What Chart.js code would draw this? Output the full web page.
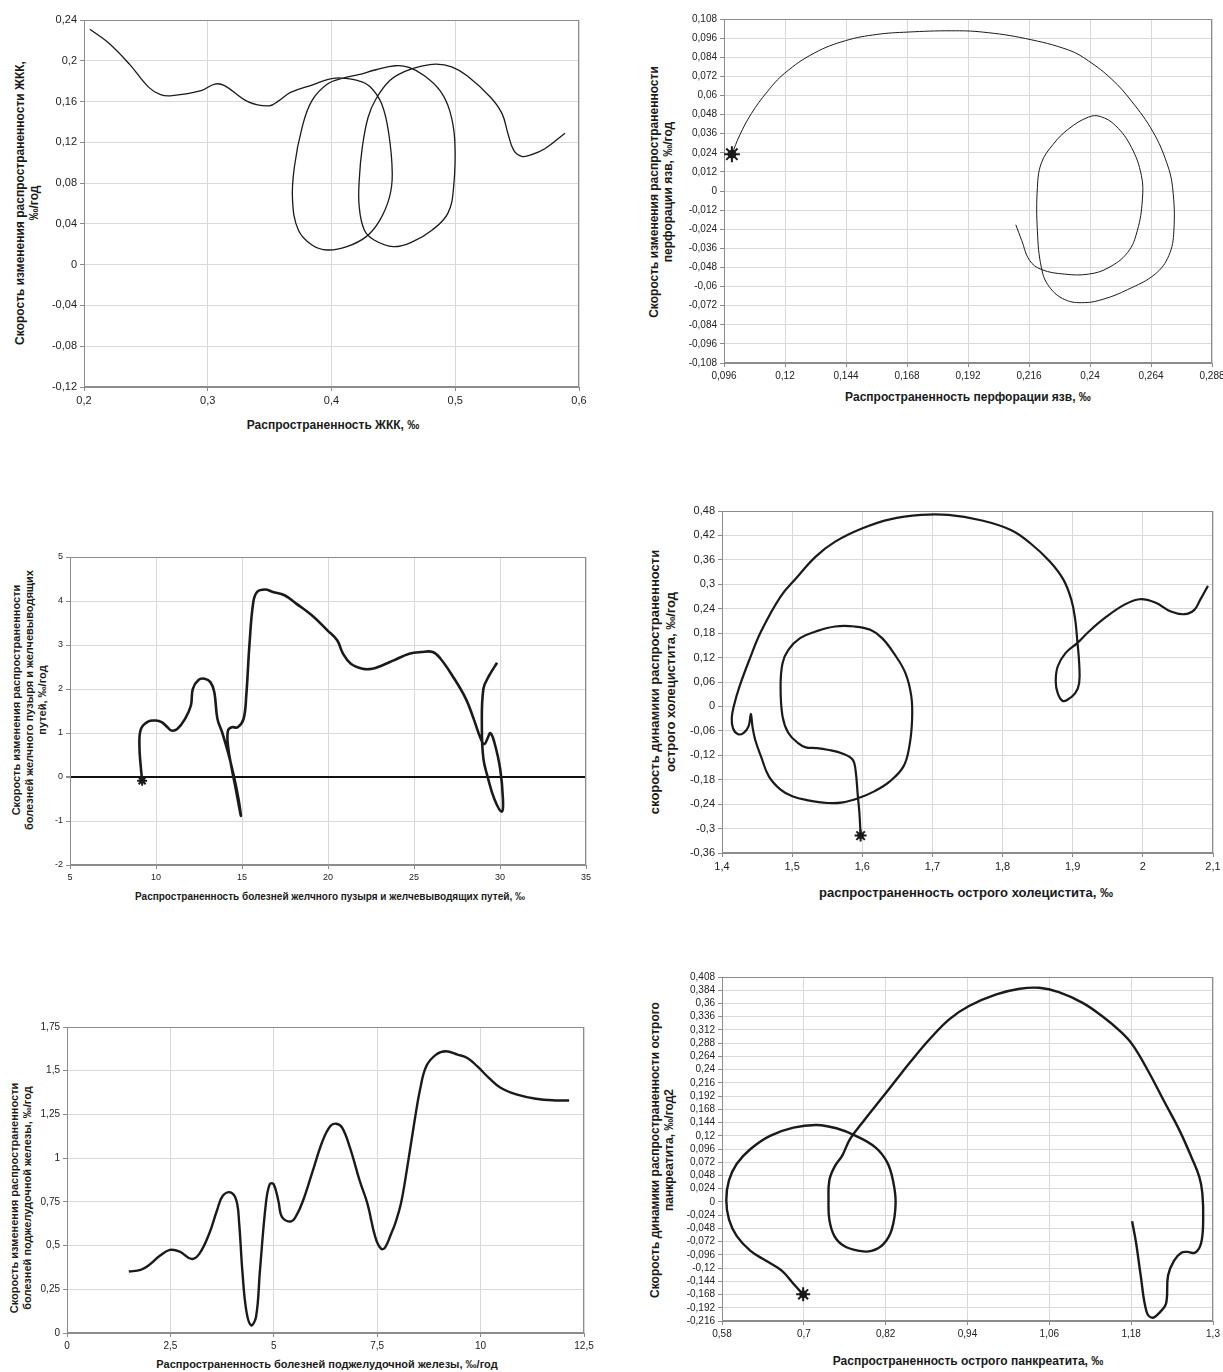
<!DOCTYPE html>
<html>
<head>
<meta charset="utf-8">
<script src="https://cdn.jsdelivr.net/npm/chart.js@4.4.1/dist/chart.umd.min.js"></script>
<style>
body { margin: 0; background: #fff; width: 1223px; height: 1372px; position: relative; overflow: hidden; font-family: "Liberation Sans", Arial, sans-serif; }
canvas { position: absolute; }
.t { position: absolute; font-weight: bold; color: #1a1a1a; white-space: nowrap; text-align: center; line-height: 1.2; }
.ty { transform: translate(-50%, -50%) rotate(-90deg); }
.tx { transform: translate(-50%, -50%); }
</style>
</head>
<body>

<div class="t ty" style="left:27px;top:203px;font-size:12px">Скорость изменения распространенности ЖКК,<br>‰/год</div>
<div class="t tx" style="left:333px;top:425px;font-size:12px">Распространенность ЖКК, ‰</div>

<div class="t ty" style="left:661px;top:192px;font-size:12px">Скорость изменения распространенности<br>перфорации язв, ‰/год</div>
<div class="t tx" style="left:968px;top:397px;font-size:12px">Распространенность перфорации язв, ‰</div>

<div class="t ty" style="left:30px;top:700px;font-size:11px">Скорость изменения распространенности<br>болезней желчного пузыря и желчевыводящих<br>путей, ‰/год</div>
<div class="t tx" style="left:330px;top:897px;font-size:10px">Распространенность болезней желчного пузыря и желчевыводящих путей, ‰</div>

<div class="t ty" style="left:663px;top:682px;font-size:13px">скорость динамики распространенности<br>острого холецистита, ‰/год</div>
<div class="t tx" style="left:966px;top:893px;font-size:13px">распространенность острого холецистита, ‰</div>

<div class="t ty" style="left:21px;top:1198px;font-size:11px">Скорость изменения распространенности<br>болезней поджелудочной железы, ‰/год</div>
<div class="t tx" style="left:327px;top:1365px;font-size:11px">Распространенность болезней поджелудочной железы, ‰/год</div>

<div class="t ty" style="left:662px;top:1150px;font-size:12px">Скорость динамики распространенности острого<br>панкреатита, ‰/год2</div>
<div class="t tx" style="left:968px;top:1361px;font-size:12px">Распространенность острого панкреатита, ‰</div>

<script>
// ЖКК
const p1X = [0.2047, 0.2195, 0.2367, 0.2524, 0.2618, 0.2712, 0.2947, 0.3057, 0.3136, 0.3324, 0.3496, 0.3575, 0.3669, 0.3842,
  0.4030, 0.4218, 0.4312, 0.4406, 0.4463, 0.4491, 0.4469, 0.4391, 0.4281, 0.4124, 0.3967, 0.3842, 0.3732, 0.3685, 0.3700,
  0.3763, 0.3842, 0.3967, 0.4093, 0.4218, 0.4359, 0.4516, 0.4626, 0.4751, 0.4877, 0.4955, 0.4996, 0.4987, 0.4940, 0.4814,
  0.4657, 0.4500, 0.4344, 0.4265, 0.4224, 0.4224, 0.4249, 0.4296, 0.4359, 0.4469, 0.4594, 0.4720, 0.4845, 0.4971, 0.5096,
  0.5285, 0.5379, 0.5426, 0.5473, 0.5536, 0.5598, 0.5724, 0.5887];
const p1Y = [0.2309, 0.2179, 0.1967, 0.1739, 0.1668, 0.1658, 0.1707, 0.1772, 0.1756, 0.1599, 0.1557, 0.1609, 0.1690, 0.1762,
  0.1830, 0.1804, 0.1746, 0.1577, 0.1284, 0.0893, 0.0665, 0.0437, 0.0275, 0.0177, 0.0144, 0.0193, 0.0340, 0.0633, 0.0958,
  0.1349, 0.1609, 0.1772, 0.1830, 0.1863, 0.1912, 0.1951, 0.1935, 0.1853, 0.1707, 0.1511, 0.1219, 0.0763, 0.0503, 0.0340,
  0.0226, 0.0177, 0.0242, 0.0340, 0.0568, 0.0828, 0.1153, 0.1446, 0.1625, 0.1804, 0.1896, 0.1944, 0.1967, 0.1941, 0.1853,
  0.1642, 0.1479, 0.1284, 0.1121, 0.1062, 0.1072, 0.1137, 0.1290];
const p1XTicks = [0.2, 0.3, 0.4, 0.5, 0.6];
const p1YTicks = [-0.12, -0.08, -0.04, 0, 0.04, 0.08, 0.12, 0.16, 0.2, 0.24];

// перфорация язв
const p2X = [0.0991, 0.1022, 0.1068, 0.1130, 0.1199, 0.1315, 0.1438, 0.1561, 0.1684, 0.1854, 0.1977, 0.2147, 0.2316, 0.2394,
  0.2486, 0.2563, 0.2648, 0.2702, 0.2725, 0.2730, 0.2710, 0.2656, 0.2548, 0.2455, 0.2378, 0.2301, 0.2239, 0.2209, 0.2193,
  0.2193, 0.2209, 0.2255, 0.2316, 0.2394, 0.2440, 0.2501, 0.2563, 0.2602, 0.2606, 0.2586, 0.2548, 0.2471, 0.2394, 0.2301,
  0.2209, 0.2162, 0.2131, 0.2108];
const p2Y = [0.0231, 0.0351, 0.0487, 0.0623, 0.0740, 0.0866, 0.0944, 0.0983, 0.0998, 0.1006, 0.0998, 0.0957, 0.0885, 0.0817,
  0.0701, 0.0565, 0.0371, 0.0177, 0.0021, -0.0250, -0.0406, -0.0522, -0.0619, -0.0678, -0.0701, -0.0682, -0.0600, -0.0483,
  -0.0250, 0.0021, 0.0177, 0.0293, 0.0390, 0.0464, 0.0468, 0.0410, 0.0274, 0.0099, -0.0056, -0.0250, -0.0386, -0.0483,
  -0.0522, -0.0522, -0.0493, -0.0435, -0.0309, -0.0212];
const p2XTicks = [0.096, 0.12, 0.144, 0.168, 0.192, 0.216, 0.24, 0.264, 0.288];
const p2YTicks = [-0.108, -0.096, -0.084, -0.072, -0.06, -0.048, -0.036, -0.024, -0.012, 0, 0.012, 0.024, 0.036, 0.048,
  0.06, 0.072, 0.084, 0.096, 0.108];

// желчный пузырь и желчевыводящие пути
const p3X = [9.195, 9.127, 9.036, 9.127, 9.535, 9.989, 10.329, 10.669, 10.896, 11.236, 11.689, 12.029, 12.143, 12.483,
  12.823, 13.163, 13.390, 13.571, 13.844, 14.184, 14.524, 14.796, 14.932, 14.637, 14.410, 14.184, 14.184, 14.410, 14.751,
  15.091, 15.249, 15.431, 15.658, 15.884, 16.338, 16.791, 17.472, 18.152, 19.059, 19.966, 20.533, 20.873, 21.327, 22.007,
  22.574, 23.141, 23.821, 24.728, 25.408, 26.088, 26.542, 27.222, 28.016, 28.469, 28.923, 29.104, 29.263, 29.444, 29.671,
  30.011, 30.170, 30.102, 29.671, 29.263, 29.036, 28.946, 29.036, 29.376, 29.830];
const p3Y = [-0.084, 0.182, 0.714, 1.094, 1.260, 1.283, 1.245, 1.131, 1.055, 1.093, 1.321, 1.625, 2.005, 2.210, 2.232,
  2.156, 1.929, 1.321, 1.017, 0.562, 0.030, -0.501, -0.881, -0.273, 0.182, 0.714, 1.055, 1.131, 1.131, 1.321, 1.853,
  2.992, 3.979, 4.207, 4.260, 4.207, 4.131, 3.941, 3.675, 3.333, 3.106, 2.802, 2.574, 2.460, 2.460, 2.536, 2.650, 2.802,
  2.840, 2.840, 2.688, 2.308, 1.777, 1.321, 0.828, 0.752, 0.866, 0.995, 0.790, 0.182, -0.501, -0.790, -0.501, 0.030,
  0.410, 1.094, 2.005, 2.308, 2.597];
const p3XTicks = [5, 10, 15, 20, 25, 30, 35];
const p3YTicks = [-2, -1, 0, 1, 2, 3, 4, 5];

// острый холецистит
const p4X = [1.5976, 1.5959, 1.5937, 1.5903, 1.5864, 1.5725, 1.5503, 1.5336, 1.5196, 1.5085, 1.4946, 1.4863, 1.4835,
  1.4863, 1.4946, 1.5113, 1.5336, 1.5614, 1.5892, 1.6115, 1.6282, 1.6449, 1.6615, 1.6699, 1.6710, 1.6671, 1.6588, 1.6393,
  1.6170, 1.5948, 1.5725, 1.5503, 1.5224, 1.5002, 1.4835, 1.4668, 1.4556, 1.4473, 1.4434, 1.4412, 1.4378, 1.4306, 1.4223,
  1.4156, 1.4139, 1.4167, 1.4250, 1.4390, 1.4556, 1.4835, 1.5057, 1.5336, 1.5614, 1.6003, 1.6393, 1.6838, 1.7228, 1.7673,
  1.8118, 1.8396, 1.8674, 1.8869, 1.8981, 1.9036, 1.9064, 1.9092, 1.9092, 1.9036, 1.8925, 1.8853, 1.8786, 1.8758, 1.8786,
  1.8897, 1.9064, 1.9231, 1.9454, 1.9732, 1.9955, 2.0177, 2.0400, 2.0594, 2.0733, 2.0817, 2.0928];
const p4Y = [-0.3173, -0.2617, -0.2208, -0.1554, -0.1309, -0.1161, -0.1063, -0.1022, -0.1006, -0.0900, -0.0654, -0.0245,
  0.0491, 0.1063, 0.1390, 0.1677, 0.1840, 0.1963, 0.1963, 0.1881, 0.1677, 0.1309, 0.0818, 0.0245, -0.0327, -0.0981,
  -0.1472, -0.1840, -0.2086, -0.2249, -0.2355, -0.2372, -0.2306, -0.2208, -0.2045, -0.1718, -0.1227, -0.0818, -0.0491,
  -0.0180, -0.0491, -0.0654, -0.0679, -0.0532, -0.0286, 0, 0.0491, 0.1145, 0.1840, 0.2699, 0.3149, 0.3680, 0.4048,
  0.4376, 0.4596, 0.4703, 0.4703, 0.4580, 0.4335, 0.4008, 0.3558, 0.3108, 0.2617, 0.2126, 0.1636, 0.1063, 0.0573,
  0.0327, 0.0164, 0.0139, 0.0327, 0.0613, 0.0981, 0.1309, 0.1554, 0.1840, 0.2167, 0.2494, 0.2633, 0.2552, 0.2331,
  0.2265, 0.2372, 0.2617, 0.2961];
const p4XTicks = [1.4, 1.5, 1.6, 1.7, 1.8, 1.9, 2, 2.1];
const p4YTicks = [-0.36, -0.3, -0.24, -0.18, -0.12, -0.06, 0, 0.06, 0.12, 0.18, 0.24, 0.3, 0.36, 0.42, 0.48];

// поджелудочная железа
const p5X = [1.495, 1.779, 1.968, 2.252, 2.489, 2.725, 3.009, 3.198, 3.435, 3.624, 3.766, 3.955, 4.097, 4.164, 4.239,
  4.334, 4.447, 4.570, 4.665, 4.807, 4.902, 4.996, 5.110, 5.204, 5.422, 5.564, 5.706, 5.942, 6.179, 6.368, 6.510, 6.652,
  6.841, 7.078, 7.267, 7.456, 7.598, 7.693, 7.835, 7.930, 8.071, 8.213, 8.403, 8.545, 8.687, 8.923, 9.160, 9.444, 9.680,
  9.917, 10.200, 10.484, 10.863, 11.336, 11.809, 12.140];
const p5Y = [0.3515, 0.3610, 0.3857, 0.4427, 0.4750, 0.4655, 0.4237, 0.4522, 0.5662, 0.6992, 0.7847, 0.8037, 0.7562,
  0.6232, 0.3572, 0.1292, 0.0437, 0.0912, 0.3572, 0.7372, 0.8512, 0.8512, 0.7562, 0.6612, 0.6384, 0.6802, 0.7562, 0.9272,
  1.0982, 1.1837, 1.1970, 1.1742, 1.0602, 0.8702, 0.7372, 0.5472, 0.4807, 0.4902, 0.5662, 0.6232, 0.7372, 0.9272, 1.2122,
  1.4022, 1.5257, 1.5922, 1.6112, 1.5922, 1.5732, 1.5257, 1.4592, 1.4022, 1.3642, 1.3395, 1.3300, 1.3300];
const p5XTicks = [0, 2.5, 5, 7.5, 10, 12.5];
const p5YTicks = [0, 0.25, 0.5, 0.75, 1, 1.25, 1.5, 1.75];

// острый панкреатит
const p6X = [0.6990, 0.6847, 0.6676, 0.6447, 0.6218, 0.6017, 0.5903, 0.5863, 0.5903, 0.6017, 0.6218, 0.6504, 0.6847,
  0.7191, 0.7477, 0.7763, 0.8049, 0.8221, 0.8306, 0.8346, 0.8289, 0.8163, 0.7992, 0.7820, 0.7591, 0.7448, 0.7374, 0.7362,
  0.7374, 0.7448, 0.7563, 0.7677, 0.7877, 0.8106, 0.8335, 0.8564, 0.8850, 0.9136, 0.9422, 0.9823, 1.0166, 1.0452, 1.0739,
  1.1082, 1.1368, 1.1654, 1.1826, 1.2055, 1.2283, 1.2512, 1.2684, 1.2799, 1.2844, 1.2856, 1.2827, 1.2741, 1.2627, 1.2541,
  1.2427, 1.2341, 1.2312, 1.2226, 1.2112, 1.2026, 1.1940, 1.1872, 1.1814];
const p6Y = [-0.1676, -0.1485, -0.1247, -0.1068, -0.0889, -0.0620, -0.0322, 0.0036, 0.0394, 0.0692, 0.0960, 0.1199,
  0.1348, 0.1396, 0.1336, 0.1199, 0.0990, 0.0722, 0.0394, -0.0024, -0.0501, -0.0770, -0.0889, -0.0889, -0.0799, -0.0620,
  -0.0322, 0.0036, 0.0394, 0.0632, 0.0841, 0.1139, 0.1468, 0.1825, 0.2183, 0.2541, 0.2959, 0.3317, 0.3555, 0.3764, 0.3866,
  0.3884, 0.3806, 0.3615, 0.3376, 0.3078, 0.2840, 0.2362, 0.1825, 0.1289, 0.0811, 0.0453, 0.0155, -0.0322, -0.0740,
  -0.0919, -0.0907, -0.0919, -0.1068, -0.1336, -0.1843, -0.1993, -0.2100, -0.1993, -0.1336, -0.0740, -0.0352];
const p6XTicks = [0.58, 0.7, 0.82, 0.94, 1.06, 1.18, 1.3];
const p6YTicks = [-0.216, -0.192, -0.168, -0.144, -0.12, -0.096, -0.072, -0.048, -0.024, 0, 0.024, 0.048, 0.072, 0.096,
  0.12, 0.144, 0.168, 0.192, 0.216, 0.24, 0.264, 0.288, 0.312, 0.336, 0.36, 0.384, 0.408];

// рамка области построения
const frame = {
  id: 'frame',
  beforeDatasetsDraw(chart) {
    const a = chart.chartArea, c = chart.ctx;
    c.save();
    c.strokeStyle = '#8c8c8c';
    c.lineWidth = 1;
    c.strokeRect(Math.round(a.left) + 0.5, Math.round(a.top) + 0.5, Math.round(a.width) - 1, Math.round(a.height) - 1);
    c.restore();
  }
};

const fmt = v => String(v).replace('.', ',');

function makeChart(p) {
  const yw = p.yw, xh = 26, pt = 10, pr = 28;
  const cv = document.createElement('canvas');
  const w = (p.r - p.l) + yw + pr, h = (p.b - p.t) + pt + xh;
  cv.width = w; cv.height = h;
  cv.style.left = (p.l - yw) + 'px';
  cv.style.top = (p.t - pt) + 'px';
  document.body.appendChild(cv);

  const datasets = [{
    data: p.xs.map((x, i) => ({ x: x, y: p.ys[i] })),
    showLine: true,
    borderColor: '#1a1a1a',
    borderWidth: p.lw,
    pointRadius: 0,
    tension: 0.4,
    fill: false
  }];
  if (p.star) {
    // звёздочка в начальной точке траектории
    datasets.push({
      data: [{ x: p.xs[0], y: p.ys[0] }],
      pointStyle: 'star',
      pointRadius: p.star,
      borderWidth: 2,
      borderColor: '#1a1a1a',
      backgroundColor: '#1a1a1a'
    }, {
      data: [{ x: p.xs[0], y: p.ys[0] }],
      pointStyle: 'circle',
      pointRadius: p.star * 0.55,
      borderWidth: 0,
      backgroundColor: '#1a1a1a'
    });
  }

  const font = { family: '"Liberation Sans", Arial, sans-serif', size: p.fs };
  new Chart(cv, {
    type: 'scatter',
    data: { datasets: datasets },
    options: {
      responsive: false,
      animation: false,
      devicePixelRatio: 1,
      layout: { padding: { left: 0, top: pt, right: pr, bottom: 0 } },
      plugins: { legend: { display: false }, tooltip: { enabled: false } },
      scales: {
        x: {
          type: 'linear',
          min: p.xt[0], max: p.xt[p.xt.length - 1],
          afterBuildTicks: s => { s.ticks = p.xt.map(v => ({ value: v })); },
          afterFit: s => { s.height = xh; },
          ticks: { callback: fmt, font: font, color: '#222', autoSkip: false, maxRotation: 0, padding: 3 },
          grid: { color: '#d9d9d9', tickColor: '#8c8c8c', tickLength: 4 },
          border: { color: '#8c8c8c' }
        },
        y: {
          type: 'linear',
          min: p.yt[0], max: p.yt[p.yt.length - 1],
          afterBuildTicks: s => { s.ticks = p.yt.map(v => ({ value: v })); },
          afterFit: s => { s.width = yw; },
          ticks: { callback: fmt, font: font, color: '#222', autoSkip: false, padding: 3 },
          grid: {
            color: c => (p.zero && c.tick && c.tick.value === 0) ? '#111' : '#d9d9d9',
            lineWidth: c => (p.zero && c.tick && c.tick.value === 0) ? 2 : 1,
            tickColor: '#8c8c8c', tickLength: 4
          },
          border: { color: '#8c8c8c' }
        }
      }
    },
    plugins: [frame]
  });
}

makeChart({ l: 84, t: 20, r: 579, b: 387, yw: 44, xs: p1X, ys: p1Y, xt: p1XTicks, yt: p1YTicks, fs: 11, lw: 1.3 });
makeChart({ l: 724, t: 19, r: 1212, b: 363, yw: 44, xs: p2X, ys: p2Y, xt: p2XTicks, yt: p2YTicks, fs: 10, lw: 1, star: 8 });
makeChart({ l: 70, t: 557, r: 586, b: 865, yw: 30, xs: p3X, ys: p3Y, xt: p3XTicks, yt: p3YTicks, fs: 9, lw: 2.6, star: 5, zero: true });
makeChart({ l: 722, t: 511, r: 1213, b: 853, yw: 44, xs: p4X, ys: p4Y, xt: p4XTicks, yt: p4YTicks, fs: 11, lw: 2.2, star: 6 });
makeChart({ l: 67, t: 1027, r: 584, b: 1333, yw: 36, xs: p5X, ys: p5Y, xt: p5XTicks, yt: p5YTicks, fs: 10, lw: 2.4 });
makeChart({ l: 722, t: 977, r: 1213, b: 1321, yw: 44, xs: p6X, ys: p6Y, xt: p6XTicks, yt: p6YTicks, fs: 10, lw: 2.4, star: 7 });
</script>
</body>
</html>
